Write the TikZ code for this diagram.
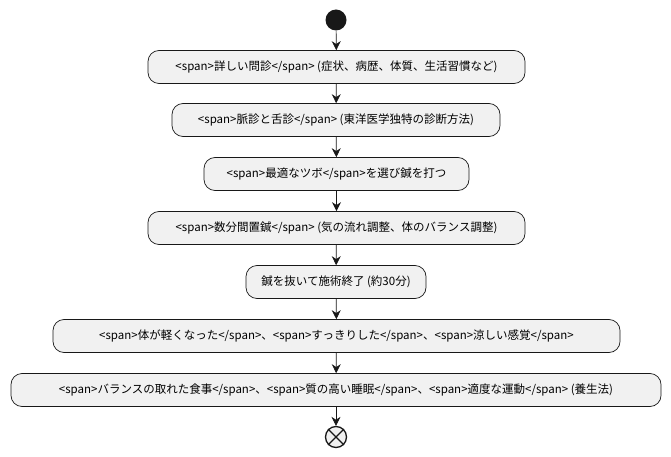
\documentclass[tikz,border=0pt]{standalone}
\usepackage{fontspec}
\setmainfont{Noto Sans CJK JP}
\usetikzlibrary{arrows.meta}
\definecolor{boxfill}{HTML}{F1F1F1}
\definecolor{ink}{HTML}{181818}
\begin{document}
\begin{tikzpicture}[x=1pt,y=-1pt,
  act/.style={draw=ink,fill=boxfill,rounded corners=11pt,minimum height=33pt,font=\fontsize{11.5pt}{13pt}\selectfont,inner sep=0pt,line width=0.7pt},
  flow/.style={draw=ink,line width=0.7pt,-{Stealth[length=9pt,width=9pt]}}]
\useasboundingbox (0,0) rectangle (671,457);
\node[circle,fill=ink,minimum size=21pt,inner sep=0pt] (s) at (336,20) {};
\node[act,minimum width=377pt] (b1) at (336.5,67) {<span>詳しい問診</span> (症状、病歴、体質、生活習慣など)};
\node[act,minimum width=328pt] (b2) at (336,120) {<span>脈診と舌診</span> (東洋医学独特の診断方法)};
\node[act,minimum width=265pt] (b3) at (336.5,174) {<span>最適なツボ</span>を選び鍼を打つ};
\node[act,minimum width=377pt] (b4) at (336.5,228) {<span>数分間置鍼</span> (気の流れ調整、体のバランス調整)};
\node[act,minimum width=180pt] (b5) at (336,282) {鍼を抜いて施術終了 (約30分)};
\node[act,minimum width=567pt] (b6) at (336.5,336) {<span>体が軽くなった</span>、<span>すっきりした</span>、<span>涼しい感覚</span>};
\node[act,minimum width=650pt] (b7) at (336,390) {<span>バランスの取れた食事</span>、<span>質の高い睡眠</span>、<span>適度な運動</span> (養生法)};
\node[circle,draw=ink,line width=1.3pt,fill=boxfill,minimum size=21pt,inner sep=0pt] (e) at (336,437) {};
\draw[ink,line width=1.3pt] ([shift={(0,0)}]e.north west) -- ([shift={(0,0)}]e.south east);
\draw[ink,line width=1.3pt] ([shift={(0,0)}]e.south west) -- ([shift={(0,0)}]e.north east);
\draw[flow] (s) -- (b1);
\draw[flow] (b1) -- (b2);
\draw[flow] (b2) -- (b3);
\draw[flow] (b3) -- (b4);
\draw[flow] (b4) -- (b5);
\draw[flow] (b5) -- (b6);
\draw[flow] (b6) -- (b7);
\draw[flow] (b7) -- (e);
\end{tikzpicture}
\end{document}
